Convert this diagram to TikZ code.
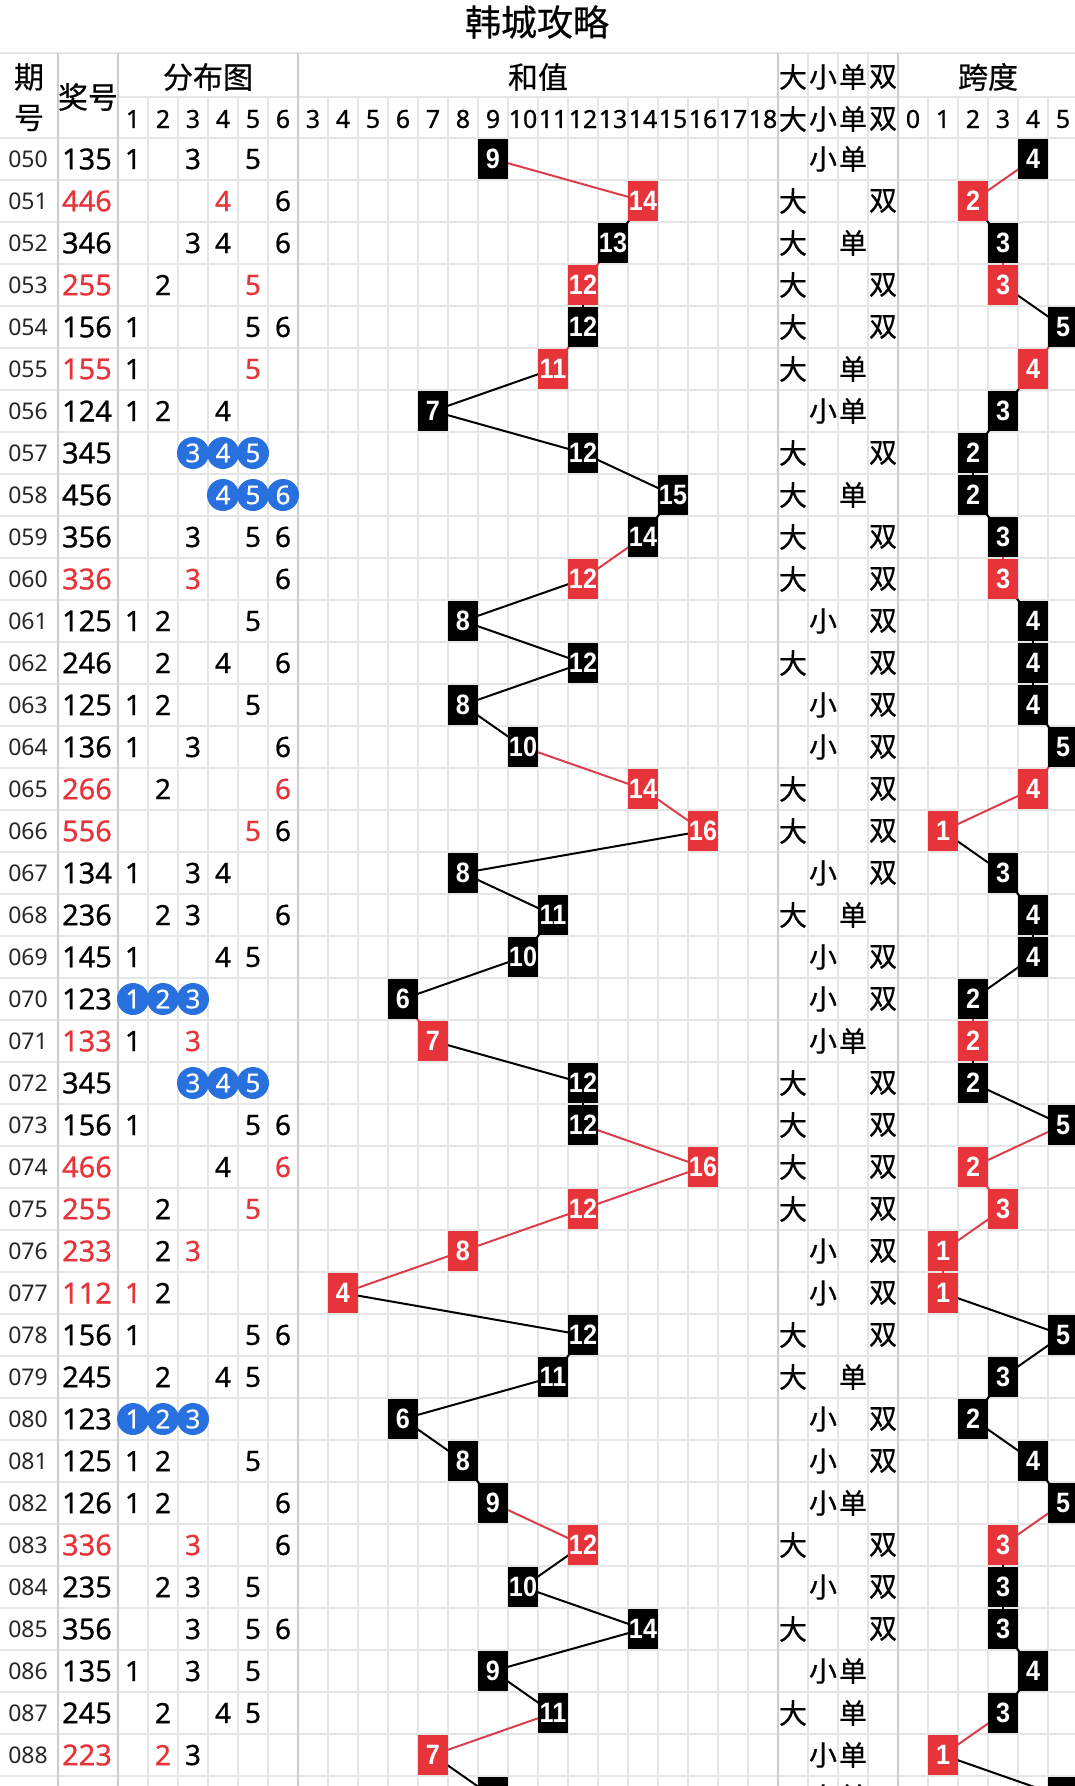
\documentclass[tikz,border=0pt]{standalone}
\usepackage{fontspec}
\setmainfont{Noto Sans}[FakeBold=0.7]
\newfontfamily\thin{Noto Sans}
\newfontfamily\cjk{Noto Sans CJK SC}[FakeBold=0.5]
\newfontfamily\bxf{Liberation Sans}
\definecolor{cred}{RGB}{230,52,58}
\definecolor{lred}{RGB}{218,62,76}
\definecolor{cblue}{RGB}{40,112,222}
\definecolor{gridc}{RGB}{229,229,229}
\definecolor{sepc}{RGB}{205,205,205}
\pgfdeclarelayer{gridl}
\pgfdeclarelayer{lines}
\pgfsetlayers{gridl,lines,main}
\newcommand\fs[1]{\fontsize{#1}{#1}\selectfont}
\newcommand\nb[1]{\scalebox{0.9}[1]{#1}}
\newcommand\dk[1]{\node[dg] (d\ri-#1) at ({103+30*#1},\ry) {#1};}
\newcommand\dr[1]{\node[dg,text=cred] (d\ri-#1) at ({103+30*#1},\ry) {#1};}
\newcommand\db[1]{\node[bc] (d\ri-#1) at ({103+30*#1},\ry) {#1};}
\newcommand\R[6]{%
  \def\ri{#1}%
  \pgfmathsetmacro\ry{159+42*#1}%
  \ifx\relax#3\relax\fi
  \expandafter\xdef\csname rc#1\endcsname{\ifnum\pdfstrcmp{#3}{cred}=0 lred\else black\fi}%
  \node[per] (p#1) at (28,\ry) {0\number\numexpr50+#1\relax};
  \node[prz,text=#3] (n#1) at (87,\ry) {#2};
  #4
  \node[sbox,fill=#3] (s#1) at ({223+30*#5},\ry) {\nb{#5}};
  \node[sbox,fill=#3] (k#1) at ({913+30*#6},\ry) {\nb{#6}};
  \ifnum#5>10 \node[hz] (a#1) at (793,\ry) {大};\else \node[hz] (a#1) at (823,\ry) {小};\fi
  \ifodd#5 \node[hz] (b#1) at (853,\ry) {单};\else \node[hz] (b#1) at (883,\ry) {双};\fi
}
\begin{document}
\begin{tikzpicture}[x=1pt,y=-1pt,
  per/.style={font=\thin\fs{23}, text=black!85, inner sep=0},
  prz/.style={font=\fs{29}, inner sep=0},
  dg/.style={font=\fs{28}, inner sep=0},
  bc/.style={circle, fill=cblue, minimum size=32, inner sep=0, text=white, font=\fs{26}},
  sbox/.style={rectangle, minimum width=30, minimum height=40, inner sep=0, text=white, font=\bxf\bfseries\fs{28}},
  hz/.style={font=\cjk\fs{28}, inner sep=0},
  hd/.style={font=\cjk\fs{30}, inner sep=0},
  hn/.style={font=\fs{25}, inner sep=0},
  conn/.style={line width=2},
  gl/.style={draw=gridc, line width=1.5},
  gs/.style={draw=sepc, line width=1.5}]
\useasboundingbox (0,0) rectangle (1075,1786);
\begin{pgfonlayer}{gridl}
  \fill[white] (0,0) rectangle (1075,1786);
  \draw[gl] (0,53) -- (1075,53);
  \draw[gl] (118,97) -- (1075,97);
  \foreach \k in {0,...,39} \draw[gl] (0,{138+42*\k}) -- (1075,{138+42*\k});
  \foreach \x in {148,178,...,268} \draw[gl] (\x,97) -- (\x,1786);
  \foreach \x in {328,358,...,748} \draw[gl] (\x,97) -- (\x,1786);
  \foreach \x in {928,958,...,1048} \draw[gl] (\x,97) -- (\x,1786);
  \foreach \x in {808,838,868} \draw[gl] (\x,53) -- (\x,1786);
  \foreach \x in {58,118,298,778,898} \draw[gs] (\x,53) -- (\x,1786);
\end{pgfonlayer}
% title and headers
\node[font=\cjk\fs{36}, inner sep=0] (title) at (537,22) {韩城攻略};
\node[hd] (hq) at (29,77) {期};
\node[hd] (hh) at (29,118) {号};
\node[hd] (hj) at (88,97) {奖号};
\node[hd] (hf) at (208,77) {分布图};
\node[hd] (hs) at (538,77) {和值};
\node[hd] (hk) at (988,77) {跨度};
\node[hz] (h1a) at (793,77) {大};
\node[hz] (h1b) at (823,77) {小};
\node[hz] (h1c) at (853,77) {单};
\node[hz] (h1d) at (883,77) {双};
\node[hz] (h2a) at (793,119) {大};
\node[hz] (h2b) at (823,119) {小};
\node[hz] (h2c) at (853,119) {单};
\node[hz] (h2d) at (883,119) {双};
\foreach \d in {1,...,6} \node[hn] (hd\d) at ({103+30*\d},119) {\d};
\foreach \d in {3,...,18} \node[hn] (hs\d) at ({223+30*\d},119) {\d};
\foreach \d in {0,...,5} \node[hn] (hk\d) at ({913+30*\d},119) {\d};
% rows
\R{0}{135}{black}{\dk1\dk3\dk5}{9}{4}
\R{1}{446}{cred}{\dr4\dk6}{14}{2}
\R{2}{346}{black}{\dk3\dk4\dk6}{13}{3}
\R{3}{255}{cred}{\dk2\dr5}{12}{3}
\R{4}{156}{black}{\dk1\dk5\dk6}{12}{5}
\R{5}{155}{cred}{\dk1\dr5}{11}{4}
\R{6}{124}{black}{\dk1\dk2\dk4}{7}{3}
\R{7}{345}{black}{\db3\db4\db5}{12}{2}
\R{8}{456}{black}{\db4\db5\db6}{15}{2}
\R{9}{356}{black}{\dk3\dk5\dk6}{14}{3}
\R{10}{336}{cred}{\dr3\dk6}{12}{3}
\R{11}{125}{black}{\dk1\dk2\dk5}{8}{4}
\R{12}{246}{black}{\dk2\dk4\dk6}{12}{4}
\R{13}{125}{black}{\dk1\dk2\dk5}{8}{4}
\R{14}{136}{black}{\dk1\dk3\dk6}{10}{5}
\R{15}{266}{cred}{\dk2\dr6}{14}{4}
\R{16}{556}{cred}{\dr5\dk6}{16}{1}
\R{17}{134}{black}{\dk1\dk3\dk4}{8}{3}
\R{18}{236}{black}{\dk2\dk3\dk6}{11}{4}
\R{19}{145}{black}{\dk1\dk4\dk5}{10}{4}
\R{20}{123}{black}{\db1\db2\db3}{6}{2}
\R{21}{133}{cred}{\dk1\dr3}{7}{2}
\R{22}{345}{black}{\db3\db4\db5}{12}{2}
\R{23}{156}{black}{\dk1\dk5\dk6}{12}{5}
\R{24}{466}{cred}{\dk4\dr6}{16}{2}
\R{25}{255}{cred}{\dk2\dr5}{12}{3}
\R{26}{233}{cred}{\dk2\dr3}{8}{1}
\R{27}{112}{cred}{\dr1\dk2}{4}{1}
\R{28}{156}{black}{\dk1\dk5\dk6}{12}{5}
\R{29}{245}{black}{\dk2\dk4\dk5}{11}{3}
\R{30}{123}{black}{\db1\db2\db3}{6}{2}
\R{31}{125}{black}{\dk1\dk2\dk5}{8}{4}
\R{32}{126}{black}{\dk1\dk2\dk6}{9}{5}
\R{33}{336}{cred}{\dr3\dk6}{12}{3}
\R{34}{235}{black}{\dk2\dk3\dk5}{10}{3}
\R{35}{356}{black}{\dk3\dk5\dk6}{14}{3}
\R{36}{135}{black}{\dk1\dk3\dk5}{9}{4}
\R{37}{245}{black}{\dk2\dk4\dk5}{11}{3}
\R{38}{223}{cred}{\dr2\dk3}{7}{1}
% partial row 089
\pgfmathsetmacro\ry{159+42*39}
\expandafter\xdef\csname rc39\endcsname{black}
\node[sbox,fill=black] (s39) at (493,\ry) {\nb{9}};
\node[sbox,fill=black] (k39) at (1063,\ry) {\nb{5}};
\node[hz] (a39) at (823,\ry) {小};
\node[hz] (b39) at (853,\ry) {单};
% connectors
\begin{pgfonlayer}{lines}
\foreach \i in {1,...,39}{
  \pgfmathtruncatemacro\j{\i-1}
  \edef\lc{\csname rc\i\endcsname}
  \draw[conn,draw=\lc] (s\j.center) -- (s\i.center);
  \draw[conn,draw=\lc] (k\j.center) -- (k\i.center);
}
\end{pgfonlayer}
\end{tikzpicture}
\end{document}
